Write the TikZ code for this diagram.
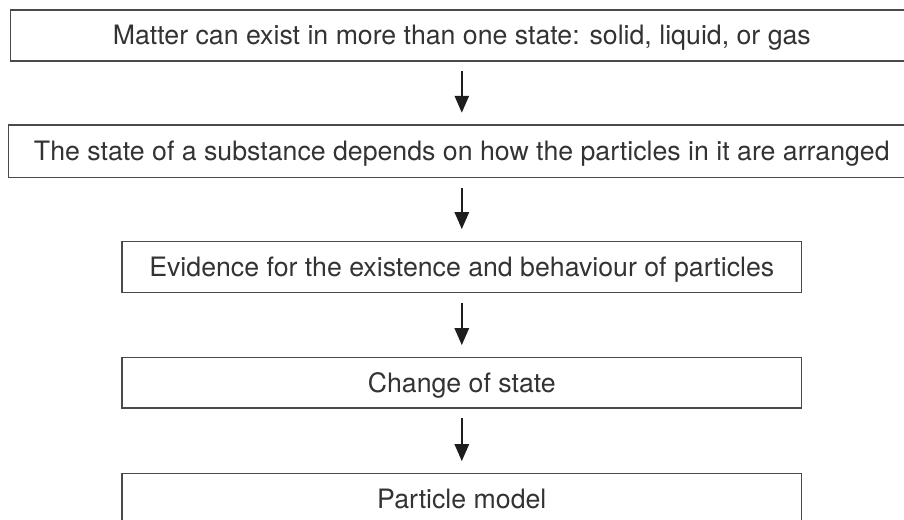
\documentclass[tikz,border=0pt]{standalone}
\usepackage{fontspec}
\setmainfont{TeX Gyre Heros}
\usetikzlibrary{arrows.meta}
\definecolor{boxline}{HTML}{4A4A4A}
\definecolor{txt}{HTML}{333333}
\definecolor{arr}{HTML}{1E1E1E}
\begin{document}
\begin{tikzpicture}[x=1pt,y=-1pt,
  stagebox/.style={draw=boxline, line width=1.6pt, text=txt, inner sep=0pt,
    font=\fontsize{26.7}{30}\selectfont, text height=19.2pt, text depth=0pt,
    minimum height=51pt},
  flowarrow/.style={draw=arr, line width=2.6pt,
    -{Triangle[length=17pt,width=14pt]}, shorten <=9.5pt, shorten >=11.5pt}]
\useasboundingbox (0,0) rectangle (904,519);
\clip (0,0) rectangle (904,519);
\node[stagebox, minimum width=902.6pt, anchor=north] (b1) at (461.8,9)
  {Matter can exist in more than one state: solid, liquid, or gas};
\node[stagebox, minimum width=906.4pt, minimum height=52.4pt, anchor=north] (b2) at (461.8,124.3)
  {The state of a substance depends on how the particles in it are arranged};
\node[stagebox, minimum width=679.2pt, anchor=north] (b3) at (461.8,240.7)
  {Evidence for the existence and behaviour of particles};
\node[stagebox, minimum width=679.2pt, minimum height=50.6pt, anchor=north] (b4) at (461.8,356.7)
  {Change of state};
\node[stagebox, minimum width=679.2pt, anchor=north] (b5) at (461.8,472.7)
  {Particle model};
\draw[flowarrow] (b1.south) -- (b2.north);
\draw[flowarrow] (b2.south) -- (b3.north);
\draw[flowarrow] (b3.south) -- (b4.north);
\draw[flowarrow] (b4.south) -- (b5.north);
\end{tikzpicture}
\end{document}
